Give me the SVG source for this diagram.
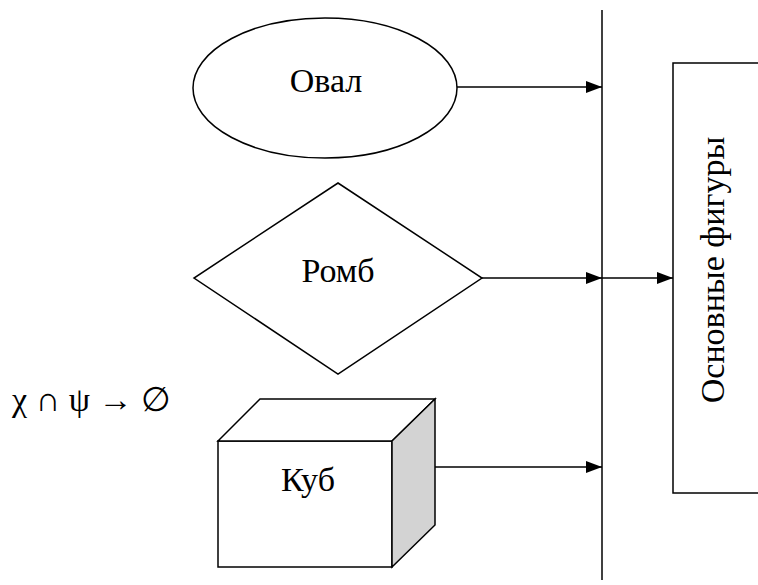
<svg xmlns="http://www.w3.org/2000/svg" width="758" height="585" viewBox="0 0 758 585">
<style>
.s{fill:#fff;stroke:#000;stroke-width:1.5}
.c{fill:none;stroke:#000;stroke-width:1.5}
.t{font-family:"Liberation Serif","Times New Roman",serif;font-size:34px;fill:#000}
</style>
<defs>
<marker id="a" markerWidth="16" markerHeight="12" refX="16" refY="6" orient="auto" markerUnits="userSpaceOnUse">
<path d="M0,0 L16,6 L0,12 Z" fill="#000"/>
</marker>
</defs>
<rect width="758" height="585" fill="#fff"/>
<g id="connectors">
<line class="c" x1="602" y1="10" x2="602" y2="580"/>
<line class="c" x1="457" y1="87" x2="602" y2="87" marker-end="url(#a)"/>
<line class="c" x1="482" y1="278" x2="602" y2="278" marker-end="url(#a)"/>
<line class="c" x1="602" y1="278" x2="673" y2="278" marker-end="url(#a)"/>
<line class="c" x1="435" y1="467" x2="602" y2="467" marker-end="url(#a)"/>
</g>
<g id="oval">
<ellipse class="s" cx="325" cy="88" rx="132" ry="70"/>
<text class="t" x="326" y="92" text-anchor="middle">Овал</text>
</g>
<g id="romb">
<polygon class="s" points="338,183 482,278 338,374 194,278"/>
<text class="t" x="338" y="282" text-anchor="middle">Ромб</text>
</g>
<g id="cube">
<rect class="s" x="218" y="441" width="174" height="126"/>
<polygon class="s" points="218,441 260,399 435,399 392,441"/>
<polygon points="392,441 435,399 435,525 392,567" fill="#d3d3d3" stroke="#000" stroke-width="1.5"/>
<text class="t" x="308" y="491" text-anchor="middle">Куб</text>
</g>
<g id="main">
<rect class="s" x="673" y="63" width="90" height="430"/>
<text class="t" transform="translate(724,270) rotate(-90)" text-anchor="middle">Основные фигуры</text>
</g>
<g id="formula">
<text class="t" x="12" y="411">χ ∩ ψ → ∅</text>
</g>
</svg>
